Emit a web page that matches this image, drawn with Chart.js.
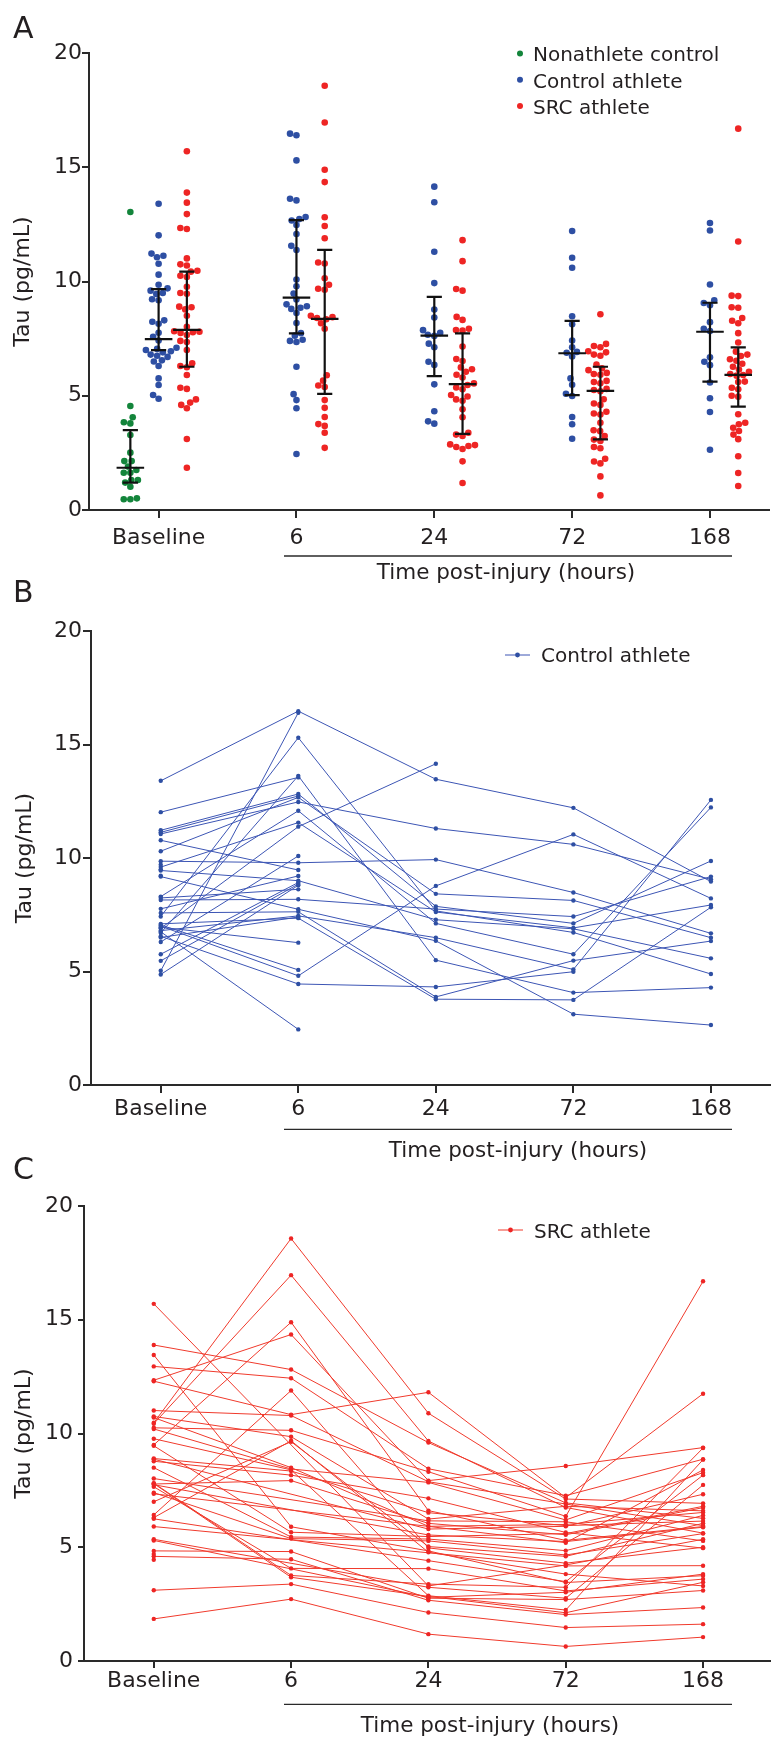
<!DOCTYPE html>
<html lang="en">
<head>
<meta charset="UTF-8">
<title>Tau after sport-related concussion</title>
<script src="https://cdn.jsdelivr.net/npm/chart.js"></script>
<style>
body { margin:0; background:#fff; }
#wrap { position:relative; width:772px; height:1739px; }
canvas { position:absolute; left:0; }
#chartA { top:0; }
#chartB { top:575px; }
#chartC { top:1150px; }
</style>
</head>
<body>
<div id="wrap">
  <canvas id="chartA" width="772" height="600"></canvas>
  <canvas id="chartB" width="772" height="600"></canvas>
  <canvas id="chartC" width="772" height="589"></canvas>
</div>

<script>
// categories and axis ticks
const timeLabels = ['Baseline', '6', '24', '72', '168'];
const tauTicks = [0, 5, 10, 15, 20];

// nonathlete controls, sampled at baseline only
const nonathlete = [13.04, 4.55, 4.06, 3.84, 3.79, 3.28, 2.51, 2.14, 2.14, 1.9, 1.75, 1.63, 1.63, 1.31, 1.31, 1.2, 1.02, 0.51, 0.47, 0.47];

// control athletes: one entry per athlete, same index in every array, null = no sample
const ctrlBase = [13.4, 12.02, 11.22, 11.13, 11.06, 10.78, 10.3, 9.86, 9.7, 9.6, 9.5, 9.45, 9.22, 9.18, 8.3, 8.24, 8.15, 7.76, 7.58, 7.42, 7.1, 7.05, 7.0, 6.95, 6.9, 6.8, 6.75, 6.7, 6.55, 6.5, 6.3, 5.76, 5.47, 5.03, 4.87];
const ctrl6    = [16.47, 13.55, 12.82, 12.73, 12.47, 9.47, 12.67, 9.79, null, 11.56, null, 9.0, null, 7.74, 12.08, 8.62, 8.18, 9.21, 7.63, 15.3, 7.35, 5.07, 4.81, 6.27, 11.38, 7.45, 2.45, 13.62, 4.45, 7.4, 10.09, 8.92, 8.85, 16.4, 8.8];
const ctrl24   = [13.47, null, 7.87, null, 11.3, null, 8.42, 9.93, null, 7.62, null, 7.28, null, 6.35, 7.12, null, 7.75, null, 3.88, 7.67, 3.78, null, 8.77, null, 14.15, 6.49, null, 5.5, 4.32, null, null, null, null, null, null];
const ctrl72   = [12.21, null, 7.12, null, 10.6, null, 8.13, 8.48, null, 6.92, null, 6.88, null, 3.12, 5.76, null, 7.42, null, 5.48, 6.72, 3.75, null, 11.04, null, null, 5.09, null, 4.07, 4.99, null, null, null, null, null, null];
const ctrl168  = [8.96, null, 9.87, null, 9.06, null, 6.49, 6.68, null, 7.93, null, 5.58, null, 2.64, 12.23, null, 9.18, null, 6.34, 4.89, 7.83, null, 8.22, null, null, 12.56, null, 4.29, null, null, null, null, null, null, null];

// SRC athletes, same layout
const srcBase = [15.7, 13.89, 13.45, 12.95, 12.34, 12.3, 11.01, 10.75, 10.7, 10.47, 10.43, 10.25, 10.2, 9.77, 9.5, 9.46, 8.9, 8.87, 8.78, 8.5, 8.02, 7.82, 7.8, 7.78, 7.75, 7.66, 7.4, 7.35, 7.0, 6.42, 6.3, 6.25, 5.91, 5.35, 5.3, 4.84, 4.7, 4.6, 4.45, 3.11, 1.85];
const src6    = [null, 12.81, 5.9, 12.43, 14.35, 10.83, 10.79, 9.86, 8.5, 18.57, 16.96, 10.14, 8.44, 8.4, 14.89, 5.66, 8.35, null, 8.17, 5.45, null, 3.76, 3.68, 7.93, null, 4.07, 5.38, null, 9.64, 11.89, 9.68, null, null, null, null, 4.81, null, 4.47, null, 3.38, 2.72];
const src24   = [3.3, 9.6, 4.84, 8.45, 7.93, 11.81, 7.88, 6.24, 5.92, 10.89, 9.67, 8.32, 7.85, 2.87, 6.61, 5.47, 6.52, 5.8, 7.15, 5.36, 6.16, 3.38, 2.84, 6.05, 5.54, 4.06, 5.28, null, 5.03, 4.97, 4.78, 4.41, null, 3.24, 2.8, 2.76, null, 2.67, null, 2.13, 1.18];
const src72   = [4.22, 6.95, 3.45, 7.27, 8.57, 7.18, 6.9, 6.8, 6.0, 7.12, 6.75, 6.36, 6.2, 2.24, 5.3, 5.6, 5.95, 5.92, 5.65, 4.85, 6.12, 3.24, 2.12, 5.55, 5.25, 3.08, 4.66, 5.2, 4.6, 4.3, 3.82, 3.49, 4.18, 2.76, 3.02, 2.7, null, 2.04, null, 1.47, 0.64];
const src168  = [5.35, 6.27, 3.75, 8.87, 9.38, 11.75, 5.95, 6.6, 6.53, 6.93, 5.62, 16.69, 8.28, 8.85, 5.91, 6.8, 6.15, 7.33, 4.96, 6.4, 5.28, 9.36, 3.46, 6.74, 5.88, 3.6, 5.6, 8.4, 6.05, 5.0, 3.3, 8.17, 4.19, 7.74, 3.82, 3.1, null, 2.35, null, 1.62, 1.05];

// median with interquartile range (panel A bars)
const nonathleteMedian = [1.85];
const nonathleteQ1 = [1.2];
const nonathleteQ3 = [3.5];
const ctrlMedian = [7.48, 9.29, 7.63, 6.86, 7.8];
const ctrlQ1 = [7.0, 7.73, 5.86, 5.03, 5.62];
const ctrlQ3 = [9.67, 12.69, 9.33, 8.28, 9.07];
const srcMedian = [7.88, 8.36, 5.51, 5.21, 5.91];
const srcQ1 = [6.27, 5.08, 3.33, 3.09, 4.52];
const srcQ3 = [10.43, 11.38, 7.73, 6.27, 7.12];

const ctrlSeries = [ctrlBase, ctrl6, ctrl24, ctrl72, ctrl168];
const srcSeries = [srcBase, src6, src24, src72, src168];

// colours
const ink = '#231f20';
const axisInk = '#2a2a2a';
const green = '#13853b';
const blue = '#2e4fa3';
const red = '#ee2524';
const blueLine = '#3c55b4';
const redLine = '#f03a2c';
const family = "'DejaVu Sans', sans-serif";

Chart.defaults.font.family = family;
Chart.defaults.color = ink;

const groupShift = 0.205;

function present(arr) {
  return arr.filter(v => v !== null);
}

// beeswarm: each dot gets the smallest sideways shift that keeps it clear of the ones already placed
function swarm(values, center, chart) {
  const ys = chart.scales.y, xs = chart.scales.x;
  const pxPerX = xs.getPixelForValue(1) - xs.getPixelForValue(0);
  const d = 6.6;
  const placed = [];
  const out = [];
  values.slice().sort((a, b) => a - b).forEach(v => {
    const py = ys.getPixelForValue(v);
    const near = placed.filter(q => Math.abs(q.py - py) < d);
    const cands = [0];
    near.forEach(q => {
      const w = Math.sqrt(d * d - (q.py - py) ** 2);
      cands.push(q.dx + w, q.dx - w);
    });
    cands.sort((a, b) => Math.abs(a) - Math.abs(b) || a - b);
    const dx = cands.find(c => near.every(q => Math.hypot(c - q.dx, q.py - py) >= d - 0.01));
    placed.push({ py, dx });
    out.push({ x: center + dx / pxPerX, y: v });
  });
  return out;
}

// median line, two caps and the IQR whisker, separated by gaps
function iqrBar(center, med, q1, q3) {
  const w = 0.1, c = 0.055;
  return [
    { x: center - w, y: med }, { x: center + w, y: med }, { x: center, y: null },
    { x: center - c, y: q3 }, { x: center + c, y: q3 }, { x: center, y: null },
    { x: center - c, y: q1 }, { x: center + c, y: q1 }, { x: center, y: null },
    { x: center, y: q1 }, { x: center, y: q3 }, { x: center, y: null }
  ];
}

function scaleSetup(g) {
  const tickMarks = { display: true, drawOnChartArea: false, drawTicks: true, color: axisInk, lineWidth: 2 };
  return {
    x: {
      type: 'linear', min: g.xMin, max: g.xMax,
      afterBuildTicks: s => { s.ticks = timeLabels.map((t, i) => ({ value: i })); },
      afterFit: s => { s.height = g.xHeight; },
      grid: { ...tickMarks, tickLength: g.xTick },
      border: { display: true, color: axisInk, width: 2 },
      ticks: { padding: g.xPad, color: ink, font: { size: 22 }, maxRotation: 0, autoSkip: false, callback: v => timeLabels[v] }
    },
    y: {
      type: 'linear', min: 0, max: 20,
      afterBuildTicks: s => { s.ticks = tauTicks.map(v => ({ value: v })); },
      afterFit: s => { s.width = g.yWidth; },
      grid: { ...tickMarks, tickLength: g.yTick },
      border: { display: true, color: axisInk, width: 2 },
      ticks: { padding: g.yPad, color: ink, font: { size: 22 } },
      title: { display: true, text: 'Tau (pg/mL)', color: ink, font: { size: 22 }, padding: { top: g.titlePad, bottom: 0 } }
    }
  };
}

// panel letter, "Time post-injury" bracket and the legend
const decor = {
  id: 'decor',
  afterDraw(chart, args, o) {
    const ctx = chart.ctx;
    ctx.save();
    ctx.fillStyle = ink;
    ctx.textBaseline = 'alphabetic';
    ctx.textAlign = 'left';
    ctx.font = '30px ' + family;
    ctx.fillText(o.letter, 13, o.letterY);

    ctx.strokeStyle = axisInk;
    ctx.lineWidth = 1.3;
    ctx.beginPath();
    ctx.moveTo(284, o.lineY);
    ctx.lineTo(732, o.lineY);
    ctx.stroke();
    ctx.textAlign = 'center';
    ctx.font = '21.5px ' + family;
    ctx.fillText('Time post-injury (hours)', o.titleX, o.titleY);

    ctx.textAlign = 'left';
    ctx.font = '20px ' + family;
    o.legend.forEach(item => {
      if (item.line) {
        ctx.strokeStyle = item.line;
        ctx.lineWidth = 1;
        ctx.beginPath();
        ctx.moveTo(item.markX - 12.5, item.y);
        ctx.lineTo(item.markX + 12.5, item.y);
        ctx.stroke();
      }
      ctx.fillStyle = item.color;
      ctx.beginPath();
      ctx.arc(item.markX, item.y, item.r, 0, Math.PI * 2);
      ctx.fill();
      ctx.fillStyle = ink;
      ctx.fillText(item.label, item.textX, item.y + item.drop);
    });
    ctx.restore();
  }
};

function baseOptions(g, decorOpts) {
  return {
    responsive: false,
    animation: false,
    devicePixelRatio: 1,
    layout: { padding: { top: g.padTop, left: 0, right: 0, bottom: 0 } },
    scales: scaleSetup(g),
    plugins: { legend: { display: false }, tooltip: { enabled: false }, decor: decorOpts }
  };
}

// ---------- panel A: dot plots with median and IQR ----------
const barData = [];
barData.push(...iqrBar(-groupShift, nonathleteMedian[0], nonathleteQ1[0], nonathleteQ3[0]));
timeLabels.forEach((t, i) => {
  barData.push(...iqrBar(i, ctrlMedian[i], ctrlQ1[i], ctrlQ3[i]));
  barData.push(...iqrBar(i + groupShift, srcMedian[i], srcQ1[i], srcQ3[i]));
});

const dotGroups = [{ values: nonathlete, center: -groupShift, color: green }];
ctrlSeries.forEach((s, i) => dotGroups.push({ values: present(s), center: i, color: blue }));
srcSeries.forEach((s, i) => dotGroups.push({ values: present(s), center: i + groupShift, color: red }));

const chartA = new Chart(document.getElementById('chartA'), {
  type: 'scatter',
  data: {
    datasets: [
      { data: barData, showLine: true, spanGaps: false, borderColor: '#111', borderWidth: 2.2, pointRadius: 0, order: 0 },
      ...dotGroups.map(g => ({
        data: g.values.map(v => ({ x: g.center, y: v })),
        backgroundColor: g.color, pointRadius: 3.3, pointBorderWidth: 0, pointHoverRadius: 3.3, order: 1
      }))
    ]
  },
  options: baseOptions(
    { padTop: 53, yWidth: 89, xHeight: 90, xMin: -0.505, xMax: 4.426, yTick: 7, yPad: 0, xTick: 8, xPad: 7, titlePad: 10 },
    {
      letter: 'A', letterY: 38, lineY: 556, titleX: 506, titleY: 579,
      legend: [
        { label: 'Nonathlete control', color: green, markX: 520, textX: 533, y: 53.5, r: 3, drop: 7.8 },
        { label: 'Control athlete', color: blue, markX: 520, textX: 533, y: 79.8, r: 3, drop: 7.8 },
        { label: 'SRC athlete', color: red, markX: 520, textX: 533, y: 106, r: 3, drop: 7.8 }
      ]
    }
  ),
  plugins: [decor]
});

dotGroups.forEach((g, k) => {
  chartA.data.datasets[k + 1].data = swarm(g.values, g.center, chartA);
});
chartA.update('none');

// ---------- panels B and C: one line per athlete ----------
function athleteLines(series, lineColor, dotColor) {
  return series[0].map((v, i) => ({
    data: series.map((s, t) => ({ x: t, y: s[i] })),
    showLine: true, spanGaps: true,
    borderColor: lineColor, borderWidth: 1,
    backgroundColor: dotColor, pointRadius: 2.2, pointBorderWidth: 0, pointHoverRadius: 2.2
  }));
}

new Chart(document.getElementById('chartB'), {
  type: 'scatter',
  data: { datasets: athleteLines(ctrlSeries, blueLine, blue) },
  options: baseOptions(
    { padTop: 56, yWidth: 91, xHeight: 90, xMin: -0.507, xMax: 4.428, yTick: 8, yPad: 1, xTick: 8, xPad: 3, titlePad: 12 },
    {
      letter: 'B', letterY: 27, lineY: 554.3, titleX: 518, titleY: 582,
      legend: [{ label: 'Control athlete', color: blue, line: blueLine, markX: 517.5, textX: 541, y: 80, r: 2.4, drop: 6.8 }]
    }
  ),
  plugins: [decor]
});

new Chart(document.getElementById('chartC'), {
  type: 'scatter',
  data: { datasets: athleteLines(srcSeries, redLine, red) },
  options: baseOptions(
    { padTop: 56, yWidth: 84, xHeight: 78, xMin: -0.508, xMax: 4.486, yTick: 6, yPad: 5, xTick: 7, xPad: 0, titlePad: 11 },
    {
      letter: 'C', letterY: 29, lineY: 554.3, titleX: 490, titleY: 582,
      legend: [{ label: 'SRC athlete', color: red, line: redLine, markX: 510.5, textX: 534, y: 80, r: 2.4, drop: 8.3 }]
    }
  ),
  plugins: [decor]
});
</script>
</body>
</html>
